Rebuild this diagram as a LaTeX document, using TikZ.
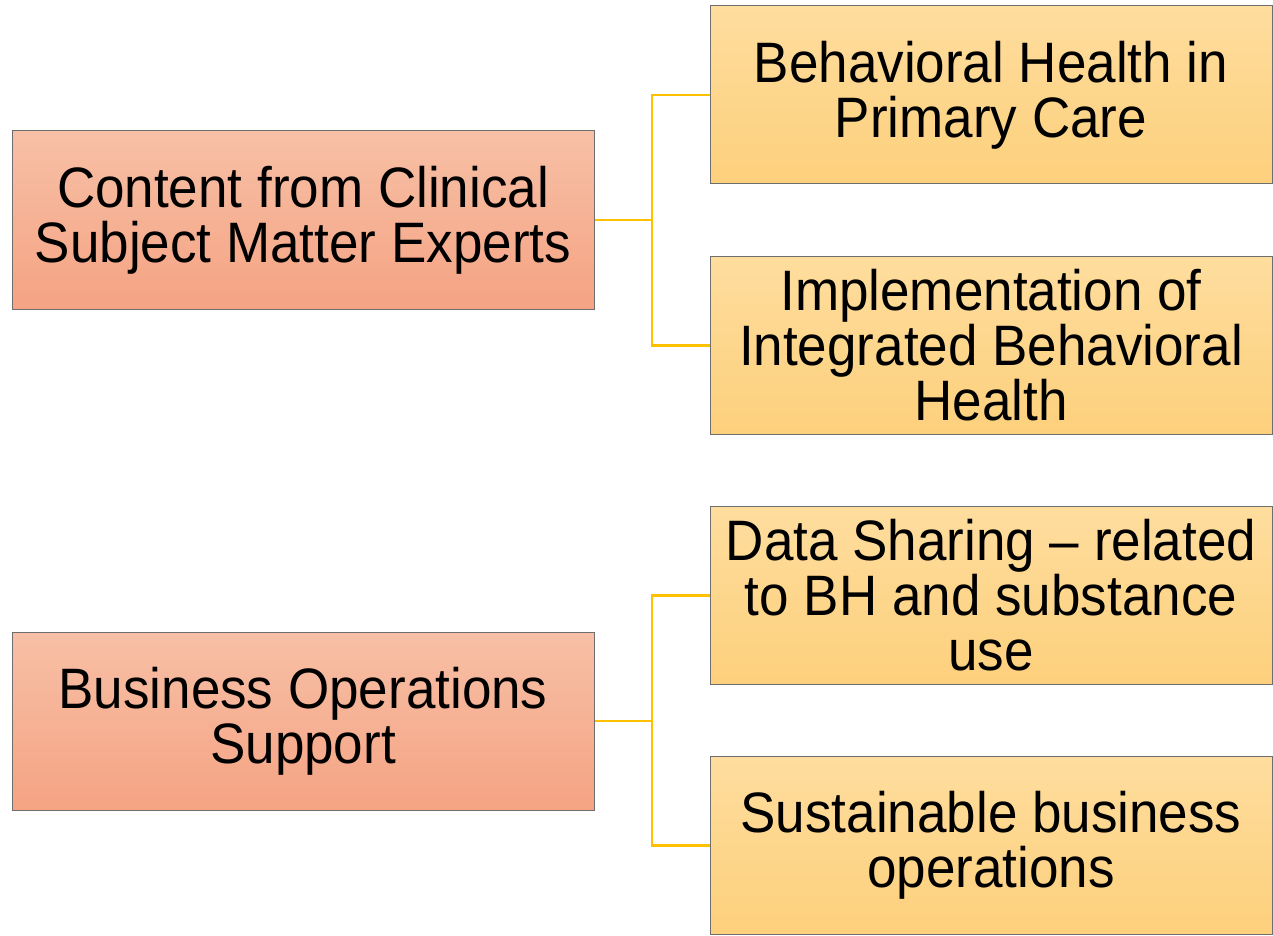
\documentclass[tikz,border=0pt]{standalone}
\usepackage{fontspec}
\setmainfont{Liberation Sans}[FakeStretch=0.93]
\usepackage{tikz}
\usetikzlibrary{positioning}

\definecolor{salmonTop}{RGB}{247,192,166}
\definecolor{salmonBot}{RGB}{245,163,131}
\definecolor{goldTop}{RGB}{254,221,158}
\definecolor{goldBot}{RGB}{253,208,124}
\definecolor{linkGold}{RGB}{255,192,0}
\definecolor{edgeGray}{RGB}{110,110,110}

\begin{document}
\begin{tikzpicture}[x=0.5pt, y=-0.5pt,
    topic/.style={draw=edgeGray, line width=0.5pt, top color=salmonTop, bottom color=salmonBot,
      minimum width=291pt, minimum height=89pt, inner sep=0pt, align=center,
      font=\fontsize{28.5}{27.5}\selectfont},
    item/.style={topic, top color=goldTop, bottom color=goldBot, minimum width=281pt},
    link/.style={draw=linkGold, line width=1.2pt}]
  \useasboundingbox (0, 0) rectangle (1273, 936);

  % left column
  \node[topic] at (303, 220) (clinical) {Content from Clinical\\Subject Matter Experts};
  \node[topic] at (303, 721) (business) {Business Operations\\Support};

  % right column
  \node[item] at (991, 95) (bhpc) {Behavioral Health in\\Primary Care};
  \node[item] at (991, 345.5) (ibh) {Implementation of\\Integrated Behavioral\\Health};
  \node[item] at (991, 595.5) (data) {Data Sharing -- related\\to BH and substance\\use};
  \node[item] at (991, 845.5) (ops) {Sustainable business\\operations};

  \coordinate (j1) at (652, 220);
  \coordinate (j2) at (652, 721);

  \draw[link] (clinical.east) -- (j1);
  \draw[link] (j1) |- (bhpc.west);
  \draw[link] (j1) |- (ibh.west);
  \draw[link] (business.east) -- (j2);
  \draw[link] (j2) |- (data.west);
  \draw[link] (j2) |- (ops.west);
\end{tikzpicture}
\end{document}
